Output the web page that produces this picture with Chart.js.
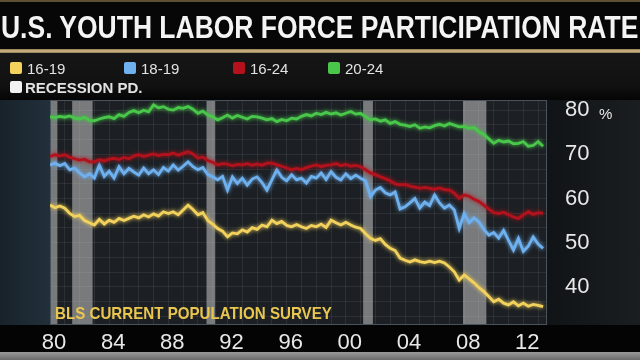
<!DOCTYPE html>
<html>
<head>
<meta charset="utf-8">
<script src="https://cdn.jsdelivr.net/npm/chart.js@4.4.1/dist/chart.umd.min.js"></script>
<style>
  html, body { margin: 0; padding: 0; background: #15181b; }
  #wrap { position: relative; width: 640px; height: 360px; overflow: hidden; font-family: "Liberation Sans", Arial, sans-serif; }
  .band { position: absolute; left: 0; width: 640px; }
  #titlebar { top: 0; height: 50px; background: #070707; border-top: 2px solid #5e4f33; box-sizing: border-box; }
  #titleline { top: 49px; height: 4px; background: linear-gradient(#8a7650, #d6bd8a, #8a7650); }
  #legendbg { top: 53px; height: 47px; background: linear-gradient(#161616, #111 70%, #050505); }
  #leftbg { position: absolute; left: 0; top: 100px; width: 50px; height: 225px; background: linear-gradient(90deg, #18222b, #22303b); }
  #rightbg { position: absolute; left: 547px; top: 100px; width: 93px; height: 225px; background: linear-gradient(90deg, #111417, #1b1e20); }
  #axisbg { top: 325px; height: 27px; background: #040404; }
  #footbg { top: 352px; height: 8px; background: linear-gradient(#9a9a9a, #6a6a6a); }
  canvas { position: absolute; left: 0; top: 0; }
  .txt { position: absolute; white-space: nowrap; line-height: 1; }
  #title { left: 1px; top: 11px; font-size: 32px; font-weight: bold; color: #f4f4f4; transform-origin: 0 0; }
  .leg { position: absolute; font-size: 15px; color: #e2e2e2; line-height: 1; white-space: nowrap; }
  .sw { position: absolute; width: 12px; height: 12px; border-radius: 2px; }
  #source { left: 55px; top: 305px; font-size: 17px; font-weight: bold; color: #e9c64e; transform: scaleX(0.89); transform-origin: 0 0; }
  #pct { left: 599px; top: 106px; font-size: 15px; color: #e6e6e6; }
</style>
</head>
<body>
<div id="wrap">
  <div class="band" id="titlebar"></div>
  <div class="band" id="titleline"></div>
  <div class="band" id="legendbg"></div>
  <div id="leftbg"></div>
  <div id="rightbg"></div>
  <div class="band" id="axisbg"></div>
  <div class="band" id="footbg"></div>
  <canvas id="chart" width="640" height="360"></canvas>
  <div class="txt" id="title">U.S. YOUTH LABOR FORCE PARTICIPATION RATE</div>
  <div id="legend"></div>
  <div class="txt" id="source">BLS CURRENT POPULATION SURVEY</div>
  <div class="txt" id="pct">%</div>
</div>
<script>
// sampled three times a year, Jan 1980 .. May 2013
const startYear = 1980;
const samplesPerYear = 3;

const youth1619 = [
  58.5, 57.9, 58.3,  57.8, 56.6, 55.9,  56.2, 55.0, 54.5,  54.0, 55.3, 54.2,
  55.1, 54.6, 55.5,  55.0, 55.5, 56.0,  55.6, 56.3, 55.8,  56.5, 56.0, 57.0,
  56.6, 57.0, 56.3,  57.4, 58.5, 57.5,  56.3, 56.8, 55.0,  54.2, 53.2, 52.6,
  51.3, 52.2, 52.0,  52.9, 52.4, 53.4,  53.0, 54.0, 53.6,  55.1, 54.3, 54.8,
  53.9, 53.6, 54.1,  53.6, 53.2, 53.9,  53.6, 54.2, 53.4,  55.1, 54.5, 54.0,
  54.6, 54.0, 53.5,  53.2, 52.0, 51.0,  50.5, 50.9, 49.6,  48.7, 48.2, 46.5,
  46.0, 45.6, 46.1,  45.7, 45.5, 45.8,  45.5, 45.8, 45.4,  44.5, 43.4, 41.5,
  42.7, 41.8, 40.9,  39.8, 38.9, 37.8,  36.6, 37.2, 36.3,  35.9, 36.6, 35.7,
  36.3, 35.6, 36.0,  35.8, 35.5
];
const youth1819 = [
  67.6, 68.0, 67.4,  67.9, 66.5, 66.9,  65.8, 64.9, 65.6,  64.6, 67.6, 65.0,
  66.2, 64.6, 67.2,  65.6, 66.8, 66.0,  65.3, 66.9, 65.6,  66.5, 65.4, 67.0,
  66.2, 67.6, 66.4,  67.3, 68.3, 67.2,  66.5, 67.0, 65.4,  64.9, 64.2, 65.0,
  61.9, 64.9, 63.4,  64.6, 63.0, 64.4,  64.9, 63.6, 61.9,  64.2, 66.5, 64.8,
  64.0, 65.4, 64.2,  64.6, 63.5, 65.0,  64.6, 65.8, 64.3,  66.1, 64.8, 64.2,
  65.6, 64.5, 65.3,  64.6, 64.0, 60.4,  61.9, 62.5, 61.3,  60.8, 61.5, 57.6,
  58.1, 59.0, 60.0,  57.8, 59.2, 58.4,  60.8, 59.0, 57.8,  58.5, 57.4, 53.2,
  56.6, 54.5, 55.6,  54.7, 53.0, 51.7,  52.3, 51.0, 52.8,  50.5, 48.3, 51.0,
  48.0, 49.2, 51.3,  49.7, 48.7
];
const youth1624 = [
  69.5, 69.9, 69.6,  69.9, 69.3, 69.0,  68.7, 68.9, 68.3,  68.3, 68.8, 68.5,
  68.9, 69.1, 68.8,  69.3, 69.0, 69.6,  69.9, 69.5, 69.8,  70.1, 69.7, 70.0,
  69.9, 70.3, 69.8,  70.2, 70.6, 70.1,  69.1, 69.4, 68.6,  68.2, 67.6, 67.9,
  67.8, 67.4, 67.7,  67.6, 67.9, 67.5,  67.8, 67.5, 68.0,  68.0, 67.6, 67.3,
  66.9, 66.5, 66.8,  66.5, 67.0, 67.3,  67.6, 67.2, 67.5,  67.6, 67.9, 67.4,
  67.7, 67.3, 67.5,  67.2, 66.5, 65.8,  65.4, 64.9, 64.5,  64.0, 63.3, 63.1,
  63.2, 62.8, 62.6,  62.3, 62.5, 62.3,  62.1, 62.4, 62.0,  61.9, 61.2, 60.0,
  60.8, 60.5, 59.8,  59.3, 58.5, 57.6,  56.8, 56.6, 56.9,  56.3, 55.8, 55.5,
  56.3, 57.0, 56.4,  56.8, 56.6
];
const youth2024 = [
  78.5, 78.3, 78.6,  78.4, 78.7, 78.2,  78.0, 78.4, 77.7,  77.6, 78.0, 78.3,
  78.5, 78.1, 79.0,  78.6, 79.5, 79.9,  79.4, 80.0, 79.6,  81.2, 80.5, 80.8,
  80.2, 80.0, 80.6,  80.4, 80.8, 80.2,  79.3, 79.8, 78.9,  78.5, 77.8, 78.3,
  78.9, 78.2, 78.8,  78.4, 78.0, 78.6,  78.5, 78.2, 77.8,  78.1, 77.4, 77.9,
  77.6, 78.2, 78.0,  78.6, 79.0, 78.7,  79.3, 79.0, 79.5,  79.1, 79.4, 78.9,
  79.3, 79.7, 79.1,  79.3, 78.5, 77.8,  78.0, 77.5, 77.8,  77.0, 77.4, 76.8,
  76.6, 76.3, 76.7,  75.9, 76.2, 76.0,  76.5, 76.8, 76.4,  77.0, 76.6, 76.2,
  76.3, 75.9, 76.1,  75.1, 74.5, 73.5,  72.5, 73.2, 72.8,  73.0, 72.4, 72.5,
  72.9, 71.8, 72.0,  72.9, 71.8
];

const seriesNames = ["16-19", "18-19", "16-24", "20-24"];
const seriesColors = ["#f2d25c", "#6fb1ef", "#b3121d", "#49c74a"];

const recessionStart = [1980.0, 1981.5, 1990.58, 2001.17, 2007.92];
const recessionEnd = [1980.5, 1982.88, 1991.17, 2001.83, 2009.5];

const yTickLabels = [40, 50, 60, 70, 80];
const xTickYears = [1980, 1984, 1988, 1992, 1996, 2000, 2004, 2008, 2012];

const periods = youth1619.map((_, i) => startYear + i / samplesPerYear);
const toPoints = vals => vals.map((v, i) => ({ x: periods[i], y: v }));

// legend
const legend = document.getElementById("legend");
const legendX = [10, 124, 233, 328];
seriesNames.forEach((name, i) => {
  legend.insertAdjacentHTML("beforeend",
    `<div class="sw" style="left:${legendX[i]}px;top:62px;background:${seriesColors[i]}"></div>` +
    `<div class="leg" style="left:${legendX[i] + 17}px;top:61px">${name}</div>`);
});
legend.insertAdjacentHTML("beforeend",
  `<div class="sw" style="left:10px;top:81px;background:#f2f2f2"></div>` +
  `<div class="leg" style="left:25px;top:80px;font-weight:bold">RECESSION PD.</div>`);

// stretch the title to the full width like the broadcast graphic
const title = document.getElementById("title");
title.style.transform = `scaleX(${637 / title.scrollWidth})`;

const backdrop = {
  id: "backdrop",
  beforeDraw(chart) {
    const { ctx, chartArea: a } = chart;
    ctx.save();
    ctx.fillStyle = "#1c2024";
    ctx.fillRect(a.left, a.top, a.right - a.left, a.bottom - a.top);
    ctx.restore();
  },
  beforeDatasetsDraw(chart) {
    const { ctx, chartArea: a, scales } = chart;
    ctx.save();
    ctx.fillStyle = "rgba(205,205,205,0.52)";
    recessionStart.forEach((s, i) => {
      const x0 = Math.max(scales.x.getPixelForValue(s), a.left);
      const x1 = scales.x.getPixelForValue(recessionEnd[i]);
      ctx.fillRect(x0, a.top, x1 - x0, a.bottom - a.top);
    });
    ctx.strokeStyle = "#4a535c";
    ctx.lineWidth = 1;
    ctx.strokeRect(a.left + 0.5, a.top + 0.5, a.right - a.left - 1, a.bottom - a.top - 1);
    ctx.restore();
  },
  beforeDatasetDraw(chart, args) {
    const ctx = chart.ctx;
    ctx.save();
    ctx.shadowColor = args.meta.dataset.options.borderColor;
    ctx.shadowBlur = 4;
  },
  afterDatasetDraw(chart) {
    chart.ctx.restore();
  }
};

const values = [youth1619, youth1819, youth1624, youth2024];

new Chart(document.getElementById("chart"), {
  type: "line",
  data: {
    datasets: values.map((vals, i) => ({
      label: seriesNames[i],
      data: toPoints(vals),
      borderColor: seriesColors[i],
      borderWidth: 2.8,
      pointRadius: 0,
      tension: 0,
      order: 4 - i
    }))
  },
  options: {
    responsive: false,
    animation: false,
    devicePixelRatio: 1,
    layout: { padding: { left: 50, top: 100, right: 0, bottom: 0 } },
    plugins: { legend: { display: false }, tooltip: { enabled: false } },
    scales: {
      x: {
        type: "linear",
        min: 1980,
        max: 2013.6,
        afterFit(scale) { scale.height = 35; },
        afterBuildTicks(scale) {
          const t = [];
          for (let y = 1980; y <= 2013; y++) t.push({ value: y });
          scale.ticks = t;
        },
        grid: { color: "rgba(255,255,255,0.07)", drawTicks: false },
        border: { display: false },
        ticks: {
          autoSkip: false,
          maxRotation: 0,
          padding: 5,
          labelOffset: 4,
          color: "#e8e8e8",
          font: { family: "Liberation Sans", size: 22 },
          callback: v => xTickYears.includes(v) ? String(v).slice(2) : ""
        }
      },
      y: {
        position: "right",
        min: 31.35,
        max: 82.3,
        afterFit(scale) { scale.width = 93; },
        afterBuildTicks(scale) {
          const t = [];
          for (let k = 10; k <= 24; k++) t.push({ value: k * 10 / 3 });
          scale.ticks = t;
        },
        grid: { color: "rgba(255,255,255,0.07)", drawTicks: false },
        border: { display: false },
        ticks: {
          autoSkip: false,
          padding: 18,
          color: "#e8e8e8",
          font: { family: "Liberation Sans", size: 22 },
          callback: v => {
            const r = Math.round(v);
            return (Math.abs(v - r) < 1e-6 && yTickLabels.includes(r)) ? String(r) : "";
          }
        }
      }
    }
  },
  plugins: [backdrop]
});
</script>
</body>
</html>
